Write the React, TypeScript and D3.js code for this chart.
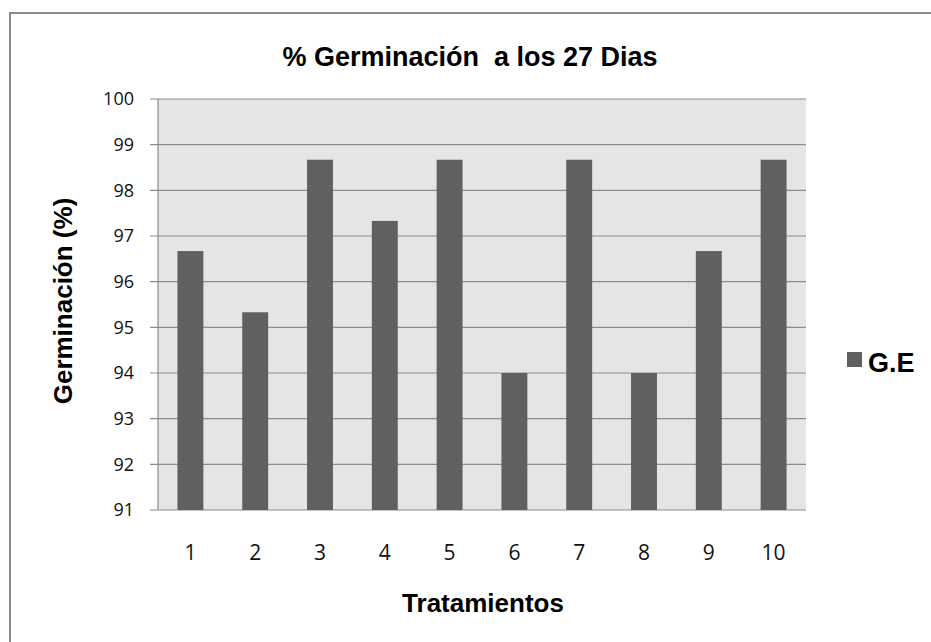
import React from "react";
import * as d3 from "d3";

const categories = ["1", "2", "3", "4", "5", "6", "7", "8", "9", "10"];
const values = [96.67, 95.33, 98.67, 97.33, 98.67, 94, 98.67, 94, 96.67, 98.67];
const yTicks = [91, 92, 93, 94, 95, 96, 97, 98, 99, 100];
const seriesName = "G.E";
const title = "% Germinación  a los 27 Dias";
const xTitle = "Tratamientos";
const yTitle = "Germinación (%)";

const W = 931;
const H = 642;
const plot = { left: 158, right: 806, top: 99, bottom: 510 };

export default function App() {
  const x = d3
    .scaleBand<string>()
    .domain(categories)
    .range([plot.left, plot.right])
    .paddingInner(0.6)
    .paddingOuter(0.3);
  const y = d3.scaleLinear().domain([91, 100]).range([plot.bottom, plot.top]);
  const bold = "'Liberation Sans', Arial, sans-serif";
  return (
    <svg
      width={W}
      height={H}
      style={{ position: "absolute", left: 0, top: 0, background: "#fff" }}
    >
      <rect x={10} y={13} width={W + 20} height={H + 20} fill="#fff" stroke="#8a8a8a" strokeWidth={2} />
      <text
        x={470}
        y={66}
        textAnchor="middle"
        fontFamily={bold}
        fontWeight="bold"
        fontSize={27}
        style={{ whiteSpace: "pre" }}
      >
        {title}
      </text>
      <rect x={plot.left} y={plot.top} width={plot.right - plot.left} height={plot.bottom - plot.top} fill="#e5e5e5" />
      {yTicks.map((t) => (
        <g key={t}>
          <line x1={150} x2={plot.right} y1={y(t)} y2={y(t)} stroke="#8c8c8c" strokeWidth={1.2} />
          <text
            x={134}
            y={y(t)}
            dy="0.35em"
            textAnchor="end"
            fontFamily="'Open Sans', sans-serif"
            fontSize={18}
            fill="#111"
          >
            {t}
          </text>
        </g>
      ))}
      <line x1={plot.left} x2={plot.left} y1={plot.top} y2={plot.bottom} stroke="#8c8c8c" strokeWidth={1.2} />
      {categories.map((c, i) => (
        <g key={c}>
          <rect
            x={x(c)!}
            y={y(values[i])}
            width={x.bandwidth()}
            height={y(91) - y(values[i])}
            fill="#606060"
          />
          <text
            x={x(c)! + x.bandwidth() / 2}
            y={560}
            textAnchor="middle"
            fontFamily="'Liberation Sans Narrow', 'Open Sans', sans-serif"
            fontSize={21}
            fill="#111"
          >
            {c}
          </text>
        </g>
      ))}
      <text x={483} y={612} textAnchor="middle" fontFamily={bold} fontWeight="bold" fontSize={26}>
        {xTitle}
      </text>
      <text
        transform="translate(72,301) rotate(-90)"
        textAnchor="middle"
        fontFamily={bold}
        fontWeight="bold"
        fontSize={26}
      >
        {yTitle}
      </text>
      <rect x={847} y={352} width={15} height={15} fill="#606060" />
      <text x={868} y={372} fontFamily={bold} fontWeight="bold" fontSize={27}>
        {seriesName}
      </text>
    </svg>
  );
}
